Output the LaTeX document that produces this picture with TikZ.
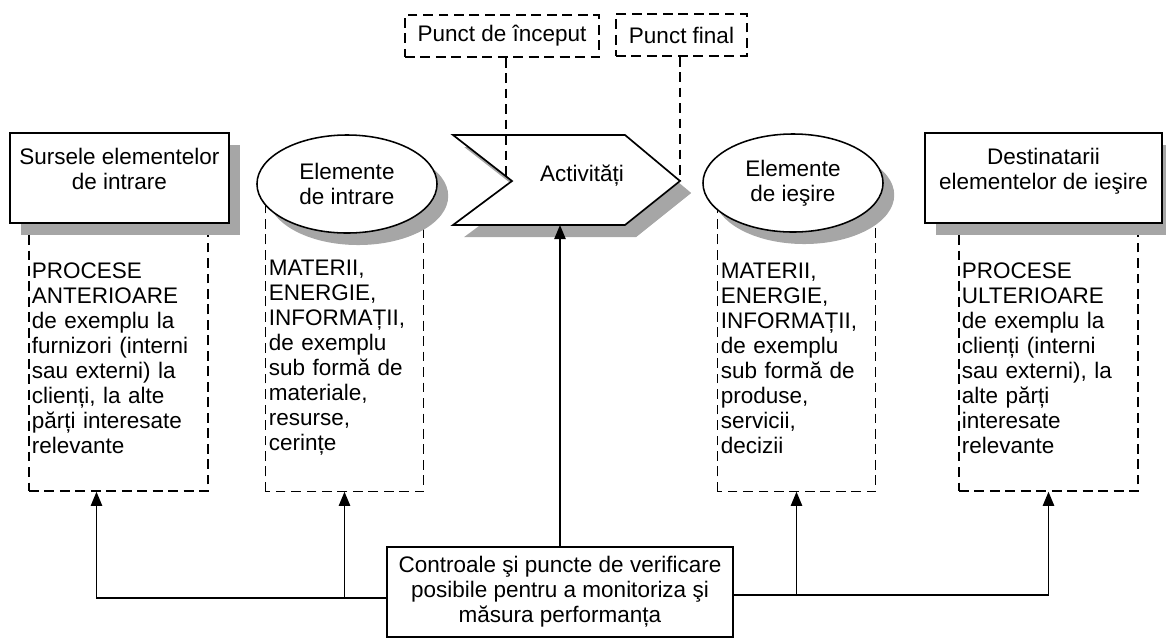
\documentclass[tikz,border=0pt]{standalone}
\usepackage{fontspec}
\setmainfont{Liberation Sans}
\usepackage{tikz}
\usetikzlibrary{shapes.geometric,arrows.meta,shadows,calc}
\tikzstyle{txt}=[font=\fontsize{16}{17.8}\selectfont]
\tikzstyle{shd}=[drop shadow={shadow xshift=0.28cm,shadow yshift=-0.3cm,fill=gray!70,opacity=1}]
\tikzstyle{rbox}=[txt,shape=rectangle,draw,line width=1.3pt,fill=white,align=center,minimum height=2.25cm,text depth=13pt,shd]
\tikzstyle{ebox}=[txt,shape=ellipse,draw,line width=1.1pt,fill=white,align=center,minimum width=4.5cm,minimum height=2.45cm,inner sep=0pt,shd]
\tikzstyle{dbox}=[txt,shape=rectangle,draw,dash pattern=on 7pt off 4pt,line width=1pt,align=left,inner xsep=2pt,minimum height=6.65cm]
\tikzstyle{pbox}=[txt,shape=rectangle,draw,dash pattern=on 7pt off 4pt,line width=1pt,minimum height=1.05cm]
\tikzstyle{cbox}=[txt,shape=rectangle,draw,line width=1pt,fill=white,align=center,minimum width=8.65cm,minimum height=2.25cm]
\tikzstyle{dline}=[dash pattern=on 7pt off 4pt,line width=1pt]
\tikzstyle{to}=[-{Triangle[length=10pt,width=8pt]},line width=1.2pt]

\begin{document}
\begin{tikzpicture}[x=0.025cm,y=-0.025cm]
            \useasboundingbox (0,0) rectangle (1166,641);
            % dashed columns
            \node[dbox,text width=4.334cm] (srcT) at (118.5,358)
                {PROCESE\\ANTERIOARE\\de exemplu la\\furnizori (interni\\sau externi) la\\clienți, la alte\\părți interesate\\relevante};
            \node[dbox,draw=none,text width=3.784cm] (inT) at (344.5,358)
                {MATERII,\\ENERGIE,\\INFORMAȚII,\\de exemplu\\sub formă de\\materiale,\\resurse,\\cerințe};
            \draw[dline] (inT.south west) rectangle ($(inT.north east)+(0,-25)$);
            \node[dbox,draw=none,text width=3.784cm] (outT) at (796.5,358)
                {MATERII,\\ENERGIE,\\INFORMAȚII,\\de exemplu\\sub formă de\\produse,\\servicii,\\decizii};
            \draw[dline] (outT.south west) rectangle ($(outT.north east)+(0,-25)$);
            \node[dbox,text width=4.334cm] (dstT) at (1048.5,358)
                {PROCESE\\ULTERIOARE\\de exemplu la\\clienți (interni\\sau externi), la\\alte părți\\interesate\\relevante};
            % top row
            \node[rbox,minimum width=5.475cm] (src) at (119.5,178) {Sursele elementelor\\de intrare};
            \node[ebox] (inEl) at (347,184) {Elemente\\de intrare};
            \draw[line width=1.2pt,fill=white,shd] (453,135) -- (625,135) -- (680,181)
                -- (625,225) -- (453,225) -- (512,181) -- cycle;
            \coordinate (actTip) at (680,181);
            \coordinate (actIn) at (506,176);
            \coordinate (actBot) at (560,225);
            \node[txt] (act) at (582,176) {Activități};
            \node[ebox] (outEl) at (793,183) {Elemente\\de ieşire};
            \node[rbox,minimum width=5.925cm] (dst) at (1043.5,178) {Destinatarii\\elementelor de ieşire};
            % start and end
            \node[pbox,minimum width=4.85cm] (start) at (502,36) {Punct de început};
            \node[pbox,minimum width=3.275cm] (final) at (681.5,35) {Punct final};
            \draw[dline] (start.south -| actIn) -- (actIn);
            \draw[dline] (final.south -| actTip) -- (actTip);
            % controls
            \node[cbox] (ctrl) at (560,592)
                {Controale şi puncte de verificare\\posibile pentru a monitoriza şi\\măsura performanța};
            \coordinate (busL) at ($(ctrl.west)+(0,6)$);
            \coordinate (busR) at ($(ctrl.east)+(0,3)$);
            \coordinate (srcIn) at ($(srcT.south)+(-22,0)$);
            \draw[to] (ctrl.north) -- (actBot);
            \draw[to] (busL) -| (srcIn);
            \draw[to] (busL -| inT.south) -- (inT.south);
            \draw[to] (busR) -| (dstT.south);
            \draw[to] (busR -| outT.south) -- (outT.south);
        \end{tikzpicture}
\end{document}
